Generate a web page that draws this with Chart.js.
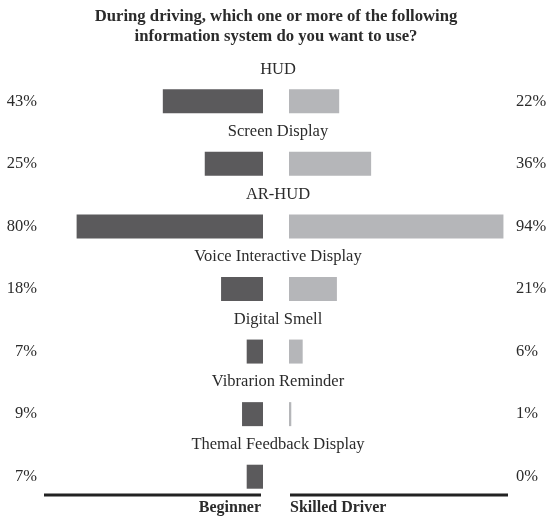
<!DOCTYPE html>
<html>
<head>
<meta charset="utf-8">
<script src="https://cdn.jsdelivr.net/npm/chart.js@4/dist/chart.umd.min.js"></script>
<style>
  html, body { margin: 0; padding: 0; background: #fff; }
  #wrap { width: 547px; height: 519px; }
</style>
</head>
<body>
<div id="wrap"><canvas id="chart"></canvas></div>
<script>
const categories = ['HUD', 'Screen Display', 'AR-HUD', 'Voice Interactive Display',
  'Digital Smell', 'Vibrarion Reminder', 'Themal Feedback Display'];
const beginner = [43, 25, 80, 18, 7, 9, 7];
const skilled = [22, 36, 94, 21, 6, 1, 0];
const groupNames = ['Beginner', 'Skilled Driver'];
const titleLines = ['During driving, which one or more of the following',
  'information system do you want to use?'];

// layout
const PAD = { top: 0, left: 44, right: 39, bottom: 11 };
const PLOT_W = 547 - PAD.left - PAD.right;
const GAP_PX = 26;
const FONT = '"Liberation Serif", "Times New Roman", serif';
const TEXT = '#2b2b2b';

// each side gets half the plot (minus the gap); 0 sits at the inner edge
function sideAxis(outerMax, reverse) {
  const half = (PLOT_W - GAP_PX) / 2;
  return {
    type: 'linear', display: false, reverse,
    min: -outerMax * (PLOT_W - half) / half, max: outerMax
  };
}

const labelsPlugin = {
  id: 'butterflyLabels',
  afterDatasetsDraw(chart) {
    const { ctx, chartArea, scales } = chart;
    const zl = scales.xl.getPixelForValue(0);
    const zr = scales.xr.getPixelForValue(0);
    const mid = (zl + zr) / 2 + 2;
    ctx.save();
    ctx.fillStyle = TEXT;
    ctx.textBaseline = 'middle';
    ctx.font = '16.5px ' + FONT;
    categories.forEach((c, i) => {
      const y = scales.y.getPixelForValue(i);
      ctx.textAlign = 'center';
      ctx.fillText(c, mid, y - 32);
      ctx.textAlign = 'right';
      ctx.fillText(beginner[i] + '%', chartArea.left - 7, y);
      ctx.textAlign = 'left';
      ctx.fillText(skilled[i] + '%', chartArea.right + 8, y);
    });
    // bottom rules + group names
    const ly = 495;
    ctx.strokeStyle = '#222';
    ctx.lineWidth = 3;
    ctx.beginPath();
    ctx.moveTo(chartArea.left, ly); ctx.lineTo(zl - 2, ly);
    ctx.moveTo(zr + 1, ly); ctx.lineTo(chartArea.right, ly);
    ctx.stroke();
    ctx.font = 'bold 16px ' + FONT;
    ctx.textAlign = 'right';
    ctx.fillText(groupNames[0], zl - 2, ly + 13);
    ctx.textAlign = 'left';
    ctx.fillText(groupNames[1], zr + 1, ly + 13);
    ctx.restore();
  }
};

new Chart(document.getElementById('chart'), {
  type: 'bar',
  data: {
    labels: categories,
    datasets: [
      { label: groupNames[0], data: beginner, xAxisID: 'xl', backgroundColor: '#5b5a5c',
        barThickness: 24, grouped: false, inflateAmount: 0 },
      { label: groupNames[1], data: skilled, xAxisID: 'xr', backgroundColor: '#b5b6b9',
        barThickness: 24, grouped: false, inflateAmount: 0 }
    ]
  },
  options: {
    indexAxis: 'y',
    responsive: true, maintainAspectRatio: false,
    animation: false,
    layout: { padding: PAD },
    plugins: {
      legend: { display: false },
      tooltip: { enabled: false },
      title: {
        display: true, fullSize: false, text: titleLines, color: TEXT,
        font: { family: FONT, size: 16.7, weight: 'bold', lineHeight: 1.2 },
        padding: { top: 6.5, bottom: 23.4 }
      }
    },
    scales: {
      y: { type: 'category', display: false },
      xl: sideAxis(94, true),
      xr: sideAxis(96, false)
    }
  },
  plugins: [labelsPlugin]
});
</script>
</body>
</html>
